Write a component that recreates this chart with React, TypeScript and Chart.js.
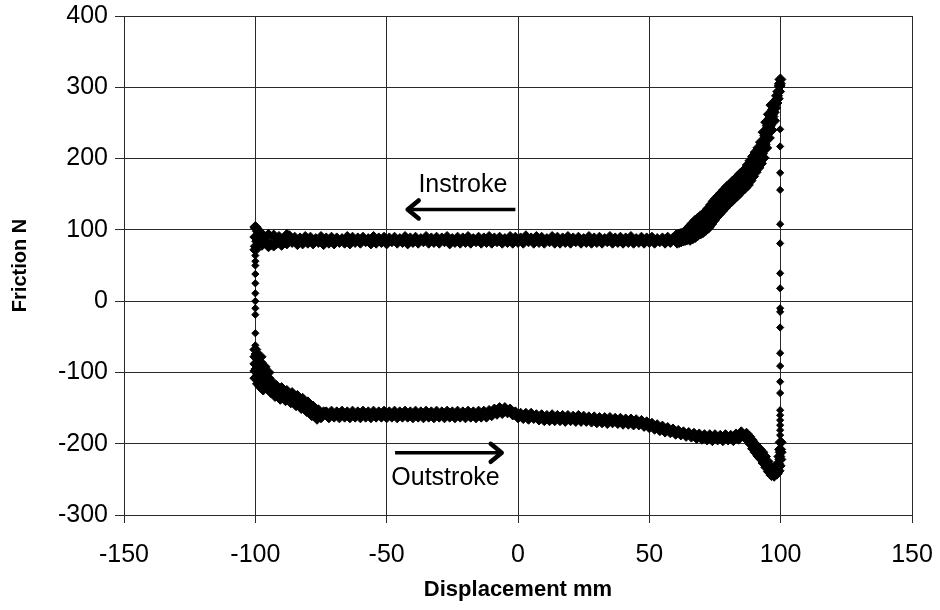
import React, { useEffect, useRef } from 'react';
import { Chart, registerables } from 'chart.js';

Chart.register(...registerables);

// Axis tick values
const xTickValues = [-150, -100, -50, 0, 50, 100, 150];
const yTickValues = [-300, -200, -100, 0, 100, 200, 300, 400];

// Instroke: steep rise near +100 (x, friction)
const inSteep: [number, number][] = [
  [99.9, 311], [99.7, 305], [99.6, 302], [99.4, 294], [99.1, 294], [98.9, 284], [98.6, 288], [98.4, 278],
  [98.1, 281], [97.9, 271], [97.6, 275], [97.4, 265], [97.1, 269], [96.9, 259], [96.6, 262], [96.4, 252],
  [96.1, 257], [95.9, 246], [95.6, 251], [95.4, 241], [95.1, 246], [94.9, 235], [94.6, 239], [94.4, 228],
  [94.1, 232], [93.9, 220], [93.6, 224], [93.4, 213], [93.1, 218], [92.9, 207], [92.6, 214], [92.4, 203],
  [92.1, 210], [91.9, 199], [91.6, 207], [91.4, 196], [91.1, 204], [90.9, 193], [90.5, 201], [90.3, 189],
  [90.0, 198], [89.6, 186], [89.4, 194], [89.0, 181], [88.7, 188], [88.3, 175], [88.0, 186], [87.6, 170],
  [87.3, 181], [86.9, 167], [86.6, 177], [86.2, 164], [85.8, 174], [85.4, 161], [85.0, 173], [84.6, 158],
  [84.2, 169], [83.8, 155], [83.4, 166], [83.0, 152], [82.6, 162], [82.2, 149], [81.8, 159], [81.4, 146],
  [81.0, 156], [80.6, 142], [80.2, 155], [79.8, 139], [79.4, 151], [79.0, 135], [78.6, 148], [78.2, 131],
  [77.8, 144], [77.4, 127], [77.0, 141], [76.6, 123], [76.2, 138], [75.8, 120], [75.4, 135], [75.0, 117],
  [74.6, 130], [74.2, 113], [73.8, 125], [73.4, 109], [73.0, 121], [72.6, 105], [72.2, 117], [71.8, 102],
  [71.4, 114], [71.0, 99], [70.6, 112], [70.2, 97], [69.8, 110], [69.4, 95], [69.0, 109], [68.6, 94],
  [68.2, 107], [67.8, 92], [67.4, 104], [67.0, 91], [66.6, 102], [66.2, 90], [65.8, 100], [65.4, 88],
  [65.0, 99], [64.6, 87], [64.2, 97], [63.8, 86], [63.4, 96], [63.0, 85], [62.6, 95], [62.2, 84],
  [61.8, 94], [61.4, 83], [61.0, 93], [60.6, 82], [60.2, 92],
];

// Instroke: outer edges of the steep band
const inSteepEdge: [number, number][] = [
  [96.5, 275], [95.5, 262], [94.5, 251], [93.5, 237], [92.5, 223], [91.5, 215], [90.5, 209], [89.5, 203],
  [88.5, 197], [87.5, 191], [86.5, 185], [85.5, 181], [84.5, 178], [83.5, 174], [82.5, 170], [81.5, 167],
  [80.5, 163], [79.5, 160], [78.5, 156], [77.5, 152], [76.5, 148], [75.5, 144], [74.5, 140], [73.5, 135],
  [72.5, 130], [71.5, 125], [70.5, 122], [69.5, 119], [68.5, 116], [67.5, 113], [66.5, 109], [65.5, 105],
  [64.5, 101],
  [97.5, 253], [96.5, 240], [95.5, 229], [94.5, 215], [93.5, 201], [92.5, 193], [91.5, 187], [90.5, 181],
  [89.5, 175], [88.5, 169], [87.5, 163], [86.5, 159], [85.5, 156], [84.5, 152], [83.5, 148], [82.5, 145],
  [81.5, 141], [80.5, 138], [79.5, 134], [78.5, 130], [77.5, 126], [76.5, 122], [75.5, 118], [74.5, 113],
  [73.5, 108], [72.5, 103], [71.5, 100], [70.5, 97], [69.5, 95], [68.5, 93], [67.5, 90], [66.5, 88],
  [65.5, 86],
];

// Instroke: flat section, x from 59 down to -96 (step 1 mm)
const inFlatX = [
  59, 58, 57, 56, 55, 54, 53, 52, 51, 50, 49, 48, 47, 46, 45, 44, 43, 42, 41, 40,
  39, 38, 37, 36, 35, 34, 33, 32, 31, 30, 29, 28, 27, 26, 25, 24, 23, 22, 21, 20,
  19, 18, 17, 16, 15, 14, 13, 12, 11, 10, 9, 8, 7, 6, 5, 4, 3, 2, 1, 0,
  -1, -2, -3, -4, -5, -6, -7, -8, -9, -10, -11, -12, -13, -14, -15, -16, -17, -18, -19, -20,
  -21, -22, -23, -24, -25, -26, -27, -28, -29, -30, -31, -32, -33, -34, -35, -36, -37, -38, -39, -40,
  -41, -42, -43, -44, -45, -46, -47, -48, -49, -50, -51, -52, -53, -54, -55, -56, -57, -58, -59, -60,
  -61, -62, -63, -64, -65, -66, -67, -68, -69, -70, -71, -72, -73, -74, -75, -76, -77, -78, -79, -80,
  -81, -82, -83, -84, -85, -86, -87, -88, -89, -90, -91, -92, -93, -94, -95, -96,
];
const inFlatY = [
  88, 83, 89, 82, 88, 84, 87, 82, 89, 83, 88, 82, 89, 83, 87, 82, 90, 83, 88, 82,
  89, 83, 88, 82, 90, 84, 87, 82, 89, 83, 88, 82, 90, 83, 87, 82, 89, 84, 88, 82,
  90, 83, 88, 82, 89, 82, 90, 84, 87, 82, 89, 83, 90, 82, 88, 84, 91, 82, 88, 83,
  89, 82, 90, 83, 87, 82, 89, 84, 88, 82, 90, 83, 88, 82, 89, 84, 87, 82, 90, 83,
  88, 82, 89, 83, 87, 81, 90, 84, 88, 82, 89, 83, 88, 82, 90, 84, 87, 82, 89, 83,
  88, 81, 90, 83, 87, 82, 89, 84, 88, 81, 89, 83, 88, 82, 90, 81, 87, 84, 89, 82,
  88, 83, 89, 81, 90, 82, 87, 83, 88, 81, 89, 82, 88, 80, 90, 83, 87, 81, 89, 82,
  90, 81, 88, 80, 89, 83, 91, 81, 88, 80, 90, 81, 92, 80, 93, 82,
];

// Instroke: end near -100
const inLeftEnd: [number, number][] = [
  [-88, 93], [-90, 79], [-93, 78], [-95, 77], [-97, 92], [-97.5, 79], [-98, 95], [-98.5, 81],
  [-99, 98], [-99.3, 84], [-99.6, 102], [-99.8, 77], [-100, 104], [-100, 90], [-100, 72],
];

// Reversal at -100 (sparse points)
const leftVertical: [number, number][] = [
  [-100, 64], [-100, 56], [-100, 50], [-100, 38], [-100, 25], [-100, 11], [-100, 0],
  [-100, -10], [-100, -19], [-100, -45], [-100, -62],
];

// Outstroke: start near -100, falling to plateau
const outLeft: [number, number][] = [
  [-100, -68], [-100, -78], [-100, -88], [-100, -98], [-100, -108], [-99.5, -74], [-99.5, -95],
  [-99, -82], [-99, -104], [-98.5, -90], [-98.5, -112], [-98, -86], [-98, -108], [-97.5, -95],
  [-97, -104], [-97, -118], [-96.5, -100], [-96, -112], [-95.5, -122], [-95, -108], [-94.5, -118],
  [-94, -128], [-93.5, -114], [-93, -124], [-92.5, -133], [-92, -119], [-91, -128], [-90.5, -137],
  [-90, -122], [-89, -131], [-88.5, -139], [-88, -126], [-87, -134], [-86.5, -142], [-86, -129],
  [-85, -138], [-84.5, -146], [-84, -133], [-83, -141], [-82.5, -150], [-82, -137], [-81, -146],
  [-80.5, -154], [-80, -142], [-79, -151], [-78.5, -160], [-78, -148], [-77, -157], [-76.5, -165],
  [-76, -153], [-75, -163], [-74, -156],
  [-98, -78], [-96.5, -92], [-95, -100], [-99, -116], [-98, -120], [-97, -124],
];

// Outstroke: plateau, x from -73 up to 86 (step 1 mm)
const outFlatX = [
  -73, -72, -71, -70, -69, -68, -67, -66, -65, -64, -63, -62, -61, -60, -59, -58, -57, -56, -55, -54,
  -53, -52, -51, -50, -49, -48, -47, -46, -45, -44, -43, -42, -41, -40, -39, -38, -37, -36, -35, -34,
  -33, -32, -31, -30, -29, -28, -27, -26, -25, -24, -23, -22, -21, -20, -19, -18, -17, -16, -15, -14,
  -13, -12, -11, -10, -9, -8, -7, -6, -5, -4, -3, -2, -1, 0, 1, 2, 3, 4, 5, 6,
  7, 8, 9, 10, 11, 12, 13, 14, 15, 16, 17, 18, 19, 20, 21, 22, 23, 24, 25, 26,
  27, 28, 29, 30, 31, 32, 33, 34, 35, 36, 37, 38, 39, 40, 41, 42, 43, 44, 45, 46,
  47, 48, 49, 50, 51, 52, 53, 54, 55, 56, 57, 58, 59, 60, 61, 62, 63, 64, 65, 66,
  67, 68, 69, 70, 71, 72, 73, 74, 75, 76, 77, 78, 79, 80, 81, 82, 83, 84, 85, 86,
];
const outFlatY = [
  -156, -163, -155, -162, -156, -163, -155, -162, -156, -163, -155, -162, -156, -163, -155, -162, -156, -163, -155, -162,
  -156, -162, -155, -163, -156, -162, -155, -163, -156, -162, -155, -162, -156, -163, -155, -162, -156, -163, -155, -162,
  -156, -163, -155, -162, -156, -163, -155, -162, -156, -163, -155, -162, -156, -163, -155, -162, -156, -163, -155, -162,
  -155, -162, -154, -160, -152, -158, -150, -157, -150, -156, -152, -159, -156, -163, -158, -164, -158, -165, -158, -164,
  -160, -166, -160, -167, -161, -167, -160, -167, -161, -167, -161, -168, -161, -167, -162, -168, -161, -168, -162, -168,
  -163, -169, -163, -170, -164, -170, -164, -171, -164, -170, -165, -171, -165, -172, -166, -172, -166, -173, -167, -173,
  -168, -175, -170, -177, -172, -179, -174, -181, -176, -183, -178, -184, -180, -186, -182, -187, -184, -189, -185, -190,
  -186, -192, -187, -193, -188, -194, -188, -195, -188, -194, -189, -195, -188, -194, -189, -195, -187, -193, -184, -190,
];

// Outstroke: dip before +100
const outRight: [number, number][] = [
  [87, -186], [87.5, -195], [88, -190], [88.5, -200], [89, -195], [89.5, -207], [90, -200], [90.5, -212],
  [91, -204], [91.5, -217], [92, -208], [92.5, -221], [93, -212], [93.5, -227], [94, -218], [94.5, -233],
  [95, -225], [95.5, -239], [96, -232], [96.5, -244], [97, -236], [97.5, -245], [98, -234], [98.5, -242],
  [99, -228], [99.2, -238], [99.5, -218], [99.6, -231], [99.8, -208], [99.9, -222], [100, -198], [100, -212],
];

// Reversal at +100 (sparse points)
const rightVertical: [number, number][] = [
  [99.8, -188], [99.8, -181], [99.8, -174], [99.8, -167], [99.8, -160], [99.8, -153], [99.8, -129],
  [99.8, -113], [99.8, -91], [99.8, -73], [99.8, -37], [99.8, -15], [99.8, -10], [99.8, 18], [99.8, 39],
  [99.8, 81], [99.8, 108], [99.8, 156], [99.8, 180], [99.8, 217], [99.8, 241],
];

// Annotations (data coordinates)
const annoLabels = ['Instroke', 'Outstroke'];
const annoLabelX = [-21, -27.6];
const annoLabelBaseY = [153, -258];
const arrowStartX = [-1, -46.8];
const arrowTipX = [-42, -6.2];
const arrowY = [128.6, -212.7];

const FONT = "'Liberation Sans', Arial, Helvetica, sans-serif";
const GRID = '#2a2a2a';

const annotationPlugin = {
  id: 'strokeAnnotations',
  afterDatasetsDraw(chart: any) {
    const { ctx, scales } = chart;
    const xs = scales.x;
    const ys = scales.y;
    ctx.save();
    ctx.fillStyle = '#000';
    ctx.strokeStyle = '#000';
    ctx.font = `25px ${FONT}`;
    ctx.textAlign = 'center';
    ctx.textBaseline = 'alphabetic';
    annoLabels.forEach((t, i) => {
      ctx.fillText(t, xs.getPixelForValue(annoLabelX[i]), ys.getPixelForValue(annoLabelBaseY[i]));
    });
    arrowStartX.forEach((sx, i) => {
      const x0 = xs.getPixelForValue(sx);
      const x1 = xs.getPixelForValue(arrowTipX[i]);
      const y = ys.getPixelForValue(arrowY[i]);
      const dir = x1 > x0 ? 1 : -1;
      ctx.lineWidth = 3.5;
      ctx.lineCap = 'butt';
      ctx.beginPath();
      ctx.moveTo(x0, y);
      ctx.lineTo(x1 - dir * 2, y);
      ctx.stroke();
      ctx.lineWidth = 4.5;
      ctx.lineJoin = 'round';
      ctx.lineCap = 'round';
      ctx.beginPath();
      ctx.moveTo(x1 - dir * 11, y - 9);
      ctx.lineTo(x1, y);
      ctx.lineTo(x1 - dir * 11, y + 9);
      ctx.stroke();
    });
    ctx.restore();
  },
};

export default function App() {
  const ref = useRef<HTMLCanvasElement>(null);
  useEffect(() => {
    const dense = [
      ...inSteep,
      ...inSteepEdge,
      ...inFlatX.map((x, i) => [x, inFlatY[i]] as [number, number]),
      ...inLeftEnd,
      ...outLeft,
      ...outFlatX.map((x, i) => [x, outFlatY[i]] as [number, number]),
      ...outRight,
    ].map(([x, y]) => ({ x, y }));
    const sparse = [...leftVertical, ...rightVertical].map(([x, y]) => ({ x, y }));

    const tickFont = { family: FONT, size: 25 };
    const xTitleFont = { family: FONT, size: 22, weight: 'bold' as const };
    const yTitleFont = { family: FONT, size: 20, weight: 'bold' as const };

    const chart = new Chart(ref.current!, {
      type: 'scatter',
      data: {
        datasets: [
          {
            data: dense,
            pointStyle: 'rectRot',
            pointRadius: 5.5,
            pointBackgroundColor: '#000',
            pointBorderColor: '#000',
            pointBorderWidth: 1,
            showLine: false,
          },
          {
            data: sparse,
            pointStyle: 'rectRot',
            pointRadius: 3.6,
            pointBackgroundColor: '#000',
            pointBorderColor: '#000',
            pointBorderWidth: 1,
            showLine: false,
          },
        ],
      },
      options: {
        responsive: false,
        animation: false,
        devicePixelRatio: 1,
        layout: { padding: { top: 16, right: 28, bottom: 0, left: 0 } },
        plugins: { legend: { display: false }, tooltip: { enabled: false } },
        scales: {
          x: {
            type: 'linear',
            min: xTickValues[0],
            max: xTickValues[xTickValues.length - 1],
            afterBuildTicks: (s: any) => {
              s.ticks = xTickValues.map((v) => ({ value: v }));
            },
            afterFit: (s: any) => {
              s.height = 95;
              s.paddingLeft = 0;
              s.paddingRight = 0;
            },
            grid: { color: GRID, lineWidth: 1, tickLength: 8, drawTicks: true },
            border: { color: GRID, width: 1 },
            ticks: { font: tickFont, color: '#000', padding: 17, maxRotation: 0 },
            title: {
              display: true,
              text: 'Displacement mm',
              font: xTitleFont,
              color: '#000',
              padding: { top: 0, bottom: 7 },
            },
          },
          y: {
            type: 'linear',
            min: yTickValues[0],
            max: yTickValues[yTickValues.length - 1],
            afterBuildTicks: (s: any) => {
              s.ticks = yTickValues.map((v) => ({ value: v }));
            },
            afterFit: (s: any) => {
              s.width = 124;
              s.paddingTop = 0;
              s.paddingBottom = 0;
            },
            grid: { color: GRID, lineWidth: 1, tickLength: 9, drawTicks: true },
            border: { color: GRID, width: 1 },
            ticks: { font: tickFont, color: '#000', padding: 7 },
            title: {
              display: true,
              text: 'Friction N',
              font: yTitleFont,
              color: '#000',
              padding: { top: 8, bottom: 0 },
            },
          },
        },
      },
      plugins: [annotationPlugin],
    });
    return () => chart.destroy();
  }, []);

  return (
    <div style={{ position: 'absolute', left: 0, top: 0, width: 940, height: 610, background: '#fff' }}>
      <canvas ref={ref} width={940} height={610} style={{ display: 'block', width: 940, height: 610 }} />
    </div>
  );
}
